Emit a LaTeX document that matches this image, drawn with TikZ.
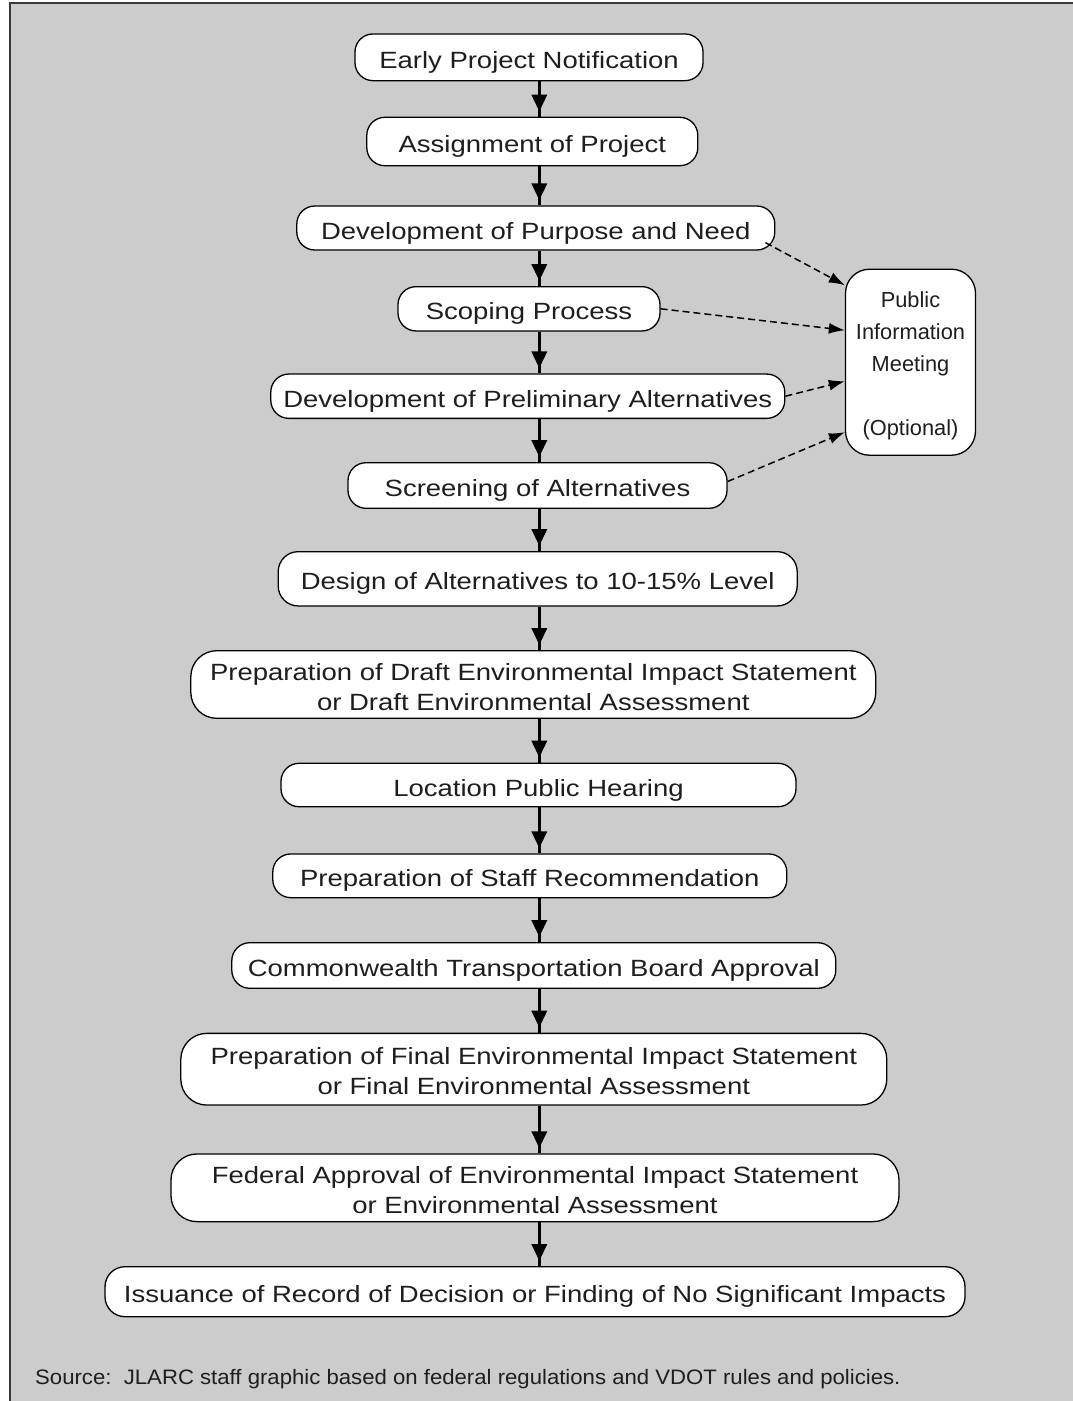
\documentclass[tikz,border=0pt]{standalone}
\usepackage{fontspec}
\setmainfont{Liberation Sans}
\newfontfamily\boxfont[FakeStretch=1.17]{Liberation Sans}
\newfontfamily\notefont[FakeStretch=1.06]{Liberation Sans}
\usetikzlibrary{arrows.meta}
\definecolor{panel}{HTML}{CCCCCC}
\definecolor{ink}{HTML}{1E1E1E}
\definecolor{framegray}{HTML}{3A3A3A}
\begin{document}
\begin{tikzpicture}[x=1pt,y=-1pt,
  stepbox/.style={draw=black, line width=1.3pt, fill=white, rounded corners=18pt,
    inner sep=0pt, align=center, text=ink, text height=23pt, text depth=1pt,
    font=\boxfont\fontsize{23.5}{30}\selectfont},
  tallbox/.style={stepbox, rounded corners=26pt, text height=53pt, text depth=2pt},
  shaft/.style={line width=3.5pt, draw=black},
  flowtip/.style={line width=3.5pt, draw=black, shorten >=5pt,
    -{Triangle[length=17pt,width=15pt]}},
  feed/.style={line width=1.5pt, draw=black, dash pattern=on 7pt off 4pt,
    -{Latex[length=16pt,width=11pt]}},
]
\useasboundingbox (0,0) rectangle (1073,1401);
% panel and its frame
\fill[white] (0,0) rectangle (1073,1401);
\fill[panel] (10,3) rectangle (1073,1401);
\draw[line width=2.5pt, framegray] (10,1401) -- (10,3) -- (1073,3);

% process steps
\node[stepbox, minimum width=348, minimum height=46.7] (n1) at (529,57.3) {Early Project Notification};
\node[stepbox, minimum width=331, minimum height=48.4] (n2) at (532.3,141.5) {Assignment of Project};
\node[stepbox, minimum width=478, minimum height=44] (n3) at (535.8,228) {Development of Purpose and Need};
\node[stepbox, minimum width=262, minimum height=44.3] (n4) at (529,308.8) {Scoping Process};
\node[stepbox, minimum width=514, minimum height=44.3] (n5) at (527.8,396.2) {Development of Preliminary Alternatives};
\node[stepbox, minimum width=379, minimum height=45.6] (n6) at (537.5,485.5) {Screening of Alternatives};
\node[stepbox, minimum width=519, minimum height=54.3, rounded corners=20pt] (n7) at (537.7,578.8) {Design of Alternatives to 10-15\% Level};
\node[tallbox, minimum width=685, minimum height=67.6] (n8) at (533.3,684.5) {Preparation of Draft Environmental Impact Statement\\or Draft Environmental Assessment};
\node[stepbox, minimum width=515, minimum height=43.4] (n9) at (538.5,785) {Location Public Hearing};
\node[stepbox, minimum width=514, minimum height=43.7] (n10) at (529.8,875.8) {Preparation of Staff Recommendation};
\node[stepbox, minimum width=604, minimum height=45.6] (n11) at (533.8,965.5) {Commonwealth Transportation Board Approval};
\node[tallbox, minimum width=706, minimum height=71.7] (n12) at (533.8,1069.2) {Preparation of Final Environmental Impact Statement\\or Final Environmental Assessment};
\node[tallbox, minimum width=728, minimum height=67.7] (n13) at (535,1187.8) {Federal Approval of Environmental Impact Statement\\or Environmental Assessment};
\node[stepbox, minimum width=860, minimum height=50, rounded corners=20pt] (n14) at (535,1291.7) {Issuance of Record of Decision or Finding of No Significant Impacts};

% optional meeting
\node[draw=black, line width=1.3pt, fill=white, rounded corners=24pt, inner sep=0pt,
  minimum width=130, minimum height=186, align=center, text=ink,
  text height=150pt, text depth=4pt,
  font=\fontsize{21.8}{32}\selectfont] (pim) at (910.5,362.2)
  {Public\\Information\\Meeting\\[32pt](Optional)};

% main flow
\coordinate (col) at (539.3,0);
\foreach \a/\b in {n1/n2,n2/n3,n3/n4,n4/n5,n5/n6,n6/n7,n7/n8,n8/n9,n9/n10,n10/n11,n11/n12,n12/n13,n13/n14}{
  \draw[shaft] (\a.south -| col) -- (\b.north -| col);
  \draw[flowtip] (\a.south -| col) -- (\b.north -| col);
}

% links to the meeting
\draw[feed] ([xshift=-10pt,yshift=8pt]n3.south east) -- ([yshift=77pt]pim.west);
\draw[feed] (n4.east) -- ([yshift=32pt]pim.west);
\draw[feed] (n5.east) -- ([yshift=-19pt]pim.west);
\draw[feed] ([yshift=4pt]n6.east) -- ([yshift=-70pt]pim.west);

% source line
\node[anchor=west, inner sep=0pt, text=ink, font=\notefont\fontsize{20.9}{24}\selectfont] (src) at (35,1379)
  {Source:\ \ JLARC staff graphic based on federal regulations and VDOT rules and policies.};
\end{tikzpicture}
\end{document}
